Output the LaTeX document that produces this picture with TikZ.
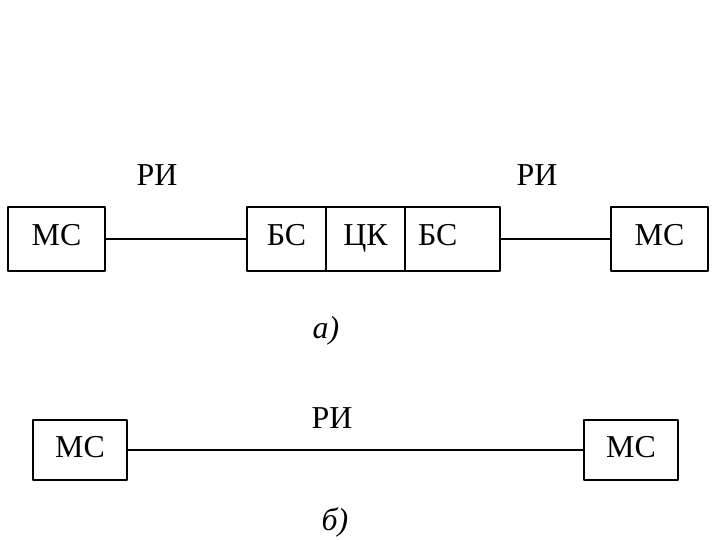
\documentclass[tikz,border=0pt]{standalone}
\usepackage{fontspec}
\setmainfont{Liberation Serif}
\usetikzlibrary{positioning}
\begin{document}
\begin{tikzpicture}[x=1bp, y=-1bp, line join=round, line cap=round,
    font=\fontsize{32}{34}\selectfont,
    blok/.style={draw, line width=2.3pt, rectangle, inner sep=0pt, outer sep=0pt,
      minimum height=64bp, text height=14bp, text depth=0bp},
    svyaz/.style={line width=1.9pt}]
            \useasboundingbox (0,0) rectangle (720,540);
            % a)
            \node[blok, minimum width=97bp] (ms1) at (56.5,239) {МС};
            \node[blok, minimum width=79bp, anchor=west] (bs1) at (247,239) {БС};
            \node[blok, minimum width=79bp, right=0bp of bs1] (ck) {ЦК};
            \node[blok, text width=69bp, inner xsep=13bp, align=left, right=0bp of ck] (bs2) {БС};
            \node[blok, minimum width=97bp] (ms2) at (659.5,239) {МС};
            \draw[svyaz] (ms1) -- (bs1);
            \draw[svyaz] (bs2) -- (ms2);
            \node (ri1) at (157,175) {РИ};
            \node (ri2) at (537,175) {РИ};
            \node (pa) at (326,331) {\itshape а)};
            % б)
            \node[blok, minimum width=94bp, minimum height=60bp] (ms3) at (80,450) {МС};
            \node[blok, minimum width=94bp, minimum height=60bp] (ms4) at (631,450) {МС};
            \draw[svyaz] (ms3) -- (ms4);
            \node (ri3) at (332,418) {РИ};
            \node (pb) at (335,522) {\itshape б)};
\end{tikzpicture}
\end{document}
